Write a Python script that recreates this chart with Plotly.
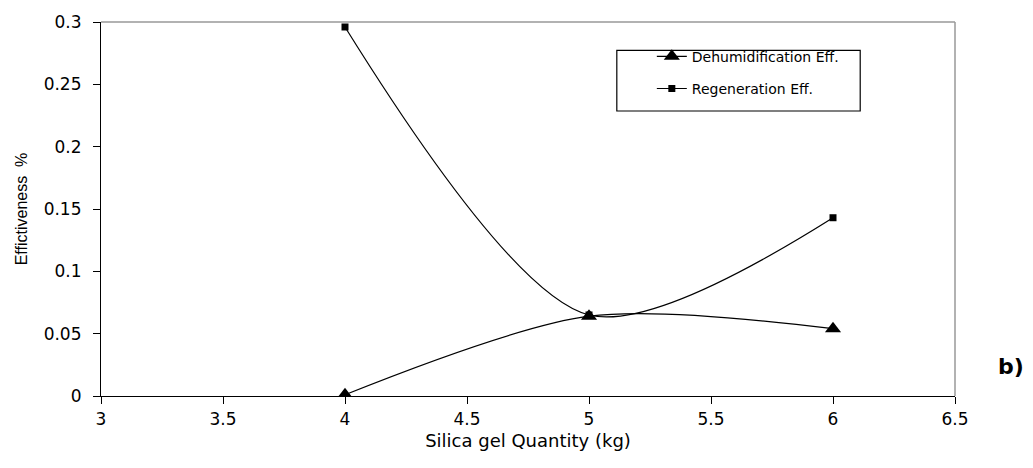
import plotly.graph_objects as go

# Silica gel quantity (kg) and measured effectiveness
silica_kg = [4, 5, 6]
dehumidification_eff = [0.001, 0.064, 0.054]
regeneration_eff = [0.296, 0.065, 0.143]

x_ticks = [3, 3.5, 4, 4.5, 5, 5.5, 6, 6.5]
y_ticks = [0, 0.05, 0.1, 0.15, 0.2, 0.25, 0.3]

FONT = "DejaVu Sans, sans-serif"
FONT_NARROW = "Liberation Sans, Arial, sans-serif"
SMOOTH = 0.85

fig = go.Figure()
fig.add_trace(go.Scatter(
    x=silica_kg, y=dehumidification_eff, name="Dehumidification Eff.",
    legendgroup="dehum",
    mode="lines+markers",
    line=dict(color="black", width=1.2, shape="spline", smoothing=SMOOTH),
    marker=dict(symbol="triangle-up", size=14, color="black"),
))
fig.add_trace(go.Scatter(
    x=silica_kg, y=regeneration_eff, name="Regeneration Eff.",
    legendgroup="regen",
    mode="lines+markers",
    line=dict(color="black", width=1.2, shape="spline", smoothing=SMOOTH),
    marker=dict(symbol="square", size=7, color="black"),
))

fig.update_layout(
    width=1033, height=468,
    margin=dict(l=101, r=78, t=14, b=72),
    paper_bgcolor="white", plot_bgcolor="white",
    font=dict(family=FONT, color="black"),
    showlegend=True,
    legend=dict(
        x=0.645, y=0.950, xanchor="left", yanchor="top",
        borderwidth=0, bgcolor="rgba(0,0,0,0)",
        font=dict(size=14, family=FONT),
        tracegroupgap=11,
    ),
    xaxis=dict(
        range=[3, 6.5], tickvals=x_ticks, ticktext=[f"{v:g}" for v in x_ticks],
        showgrid=False, zeroline=False,
        showline=True, linecolor="black", linewidth=1.2,
        ticks="outside", ticklen=7, tickcolor="black",
        tickfont=dict(size=17, family=FONT),
        title=dict(text="Silica gel Quantity (kg)", font=dict(size=18, family=FONT), standoff=6),
    ),
    yaxis=dict(
        range=[0, 0.3], tickvals=y_ticks, ticktext=[f"{v:g}" for v in y_ticks],
        showgrid=False, zeroline=False,
        showline=True, linecolor="black", linewidth=1.2,
        ticks="outside", ticklen=7, tickcolor="black",
        ticklabelstandoff=8,
        tickfont=dict(size=17, family=FONT),
        title=dict(text="Effictiveness  %", font=dict(size=16, family=FONT_NARROW), standoff=12),
    ),
    shapes=[
        # gray top and right frame of the plot area
        dict(type="line", xref="paper", yref="paper", x0=0, x1=1, y0=1, y1=1,
             line=dict(color="#999999", width=1.5)),
        dict(type="line", xref="paper", yref="paper", x0=1, x1=1, y0=0, y1=1,
             line=dict(color="#999999", width=1.5)),
        # legend frame
        dict(type="rect", xref="paper", yref="paper", x0=0.604, x1=0.889, y0=0.762, y1=0.924,
             line=dict(color="black", width=1.2), fillcolor="rgba(0,0,0,0)"),
    ],
    annotations=[
        dict(text="<b>b)</b>", xref="paper", yref="paper", x=1.0657, y=0.0785,
             xanchor="center", yanchor="middle", showarrow=False,
             font=dict(size=22, family=FONT, color="black")),
    ],
)

fig.write_html("out.html")
